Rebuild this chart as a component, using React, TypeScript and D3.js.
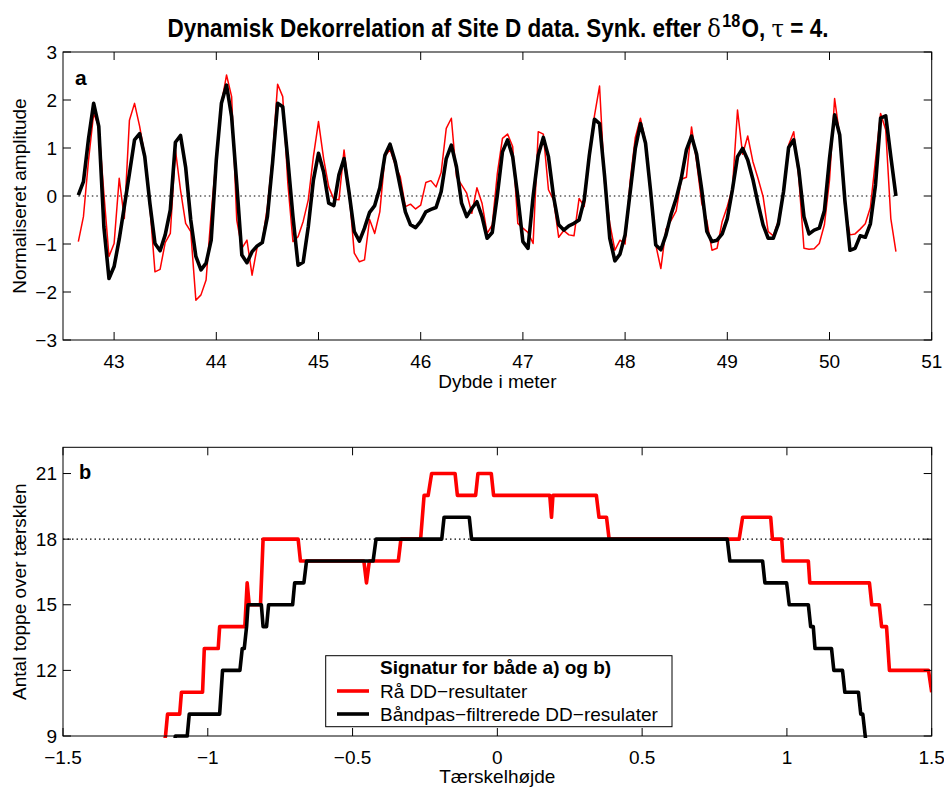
import React from 'react';
import * as d3 from 'd3';

// Depth sampling of the record (m)
const DEPTH_START = 42.65;
const DEPTH_STEP = 0.05;

// Panel a: raw DD result (red) and band-pass filtered DD result (black)
const rawAmp = [
  -0.95, -0.43, 0.75, 1.72, 1.45, 0.05, -1.26, -0.99, 0.37, -0.47,
  1.58, 1.93, 1.45, 0.85, -0.22, -1.58, -1.53, -0.97, -0.78, 0.96,
  0.12, -0.57, -0.74, -2.17, -2.06, -1.75, -0.36, 0.82, 1.93, 2.52,
  2.07, -0.5, -1.09, -0.92, -1.65, -1.06, -0.95, -0.22, 0.82, 2.33,
  2.07, 0.26, -0.95, -0.85, -0.53, -0.08, 0.82, 1.55, 0.78, 0.19,
  -0.07, -0.08, 0.96, 0.06, -1.19, -1.37, -1.33, -0.49, -0.78, -0.33,
  0.82, 0.97, 0.65, 0.4, -0.22, -0.17, -0.27, -0.19, 0.28, 0.32,
  0.19, 0.49, 1.41, 1.62, 0.4, 0.23, 0.06, -0.36, 0.17, -0.15,
  -0.78, -0.6, 0.47, 1.2, 1.29, 1.03, -0.57, -0.67, -0.76, -0.99,
  1.34, 1.29, 0.13, -0.08, -0.86, -0.72, -0.81, -0.83, -0.05, -0.22,
  0.92, 1.67, 2.29, 0.26, -0.57, -1.13, -0.92, -1.0, 0.33, 1.22,
  1.62, 1.13, -0.01, -1.02, -1.51, -0.69, -0.51, -0.31, 0.35, 0.39,
  1.44, 0.7, -0.15, -0.52, -1.13, -1.09, -0.53, -0.22, 0.16, 1.79,
  0.87, 1.25, 0.72, 0.37, -0.01, -0.74, -0.83, -0.51, 0.11, 1.06,
  1.34, 0.37, -1.09, -1.11, -1.1, -0.99, -0.6, 0.33, 2.03, 1.25,
  -0.22, -0.81, -0.79, -0.69, -0.58, -0.24, 0.75, 1.72, 1.38, -0.47,
  -1.16,
];

const filtAmp = [
  0.02, 0.3, 1.2, 1.93, 1.45, -0.64, -1.72, -1.47, -0.9, -0.22,
  0.47, 1.17, 1.3, 0.82, -0.15, -0.99, -1.14, -0.81, -0.29, 1.12,
  1.26, 0.6, -0.5, -1.26, -1.54, -1.4, -0.92, 0.75, 1.93, 2.31,
  1.65, 0.26, -1.23, -1.39, -1.16, -1.04, -0.97, -0.43, 0.68, 1.93,
  1.86, 0.75, -0.43, -1.44, -1.38, -0.64, 0.33, 0.89, 0.5, -0.15,
  -0.2, 0.44, 0.78, 0.06, -0.74, -0.94, -0.67, -0.34, -0.2, 0.17,
  0.85, 1.08, 0.72, 0.19, -0.33, -0.6, -0.66, -0.53, -0.33, -0.28,
  -0.24, 0.09, 0.78, 1.06, 0.61, -0.15, -0.43, -0.26, -0.12, -0.43,
  -0.88, -0.76, 0.02, 0.92, 1.17, 0.82, -0.01, -0.95, -1.09, -0.01,
  0.85, 1.22, 0.82, -0.01, -0.6, -0.71, -0.62, -0.57, -0.5, -0.08,
  0.85, 1.6, 1.51, 0.4, -0.88, -1.35, -1.21, -0.81, 0.09, 0.99,
  1.51, 1.1, 0.09, -1.02, -1.12, -0.81, -0.38, -0.05, 0.37, 0.96,
  1.25, 0.87, 0.13, -0.74, -0.95, -0.92, -0.79, -0.47, 0.13, 0.82,
  0.99, 0.75, 0.35, -0.15, -0.6, -0.88, -0.88, -0.58, 0.09, 1.01,
  1.17, 0.54, -0.43, -0.79, -0.71, -0.67, -0.31, 0.78, 1.69, 1.27,
  -0.08, -1.13, -1.09, -0.83, -0.86, -0.58, 0.23, 1.62, 1.67, 0.82,
  0.0,
];

const depthTicks = [43, 44, 45, 46, 47, 48, 49, 50, 51];
const ampTicks = [-3, -2, -1, 0, 1, 2, 3];

// Panel b: number of peaks above threshold, raw (red) and filtered (black)
const rawThreshold = [
  -1.16, -1.146, -1.139, -1.097, -1.091, -1.018, -1.012, -0.964, -0.959, -0.872,
  -0.864, -0.857, -0.818, -0.809, -0.688, -0.68, -0.461, -0.452, -0.442, -0.342,
  -0.333, -0.265, -0.253, -0.239, -0.227, -0.146, -0.138, -0.075, -0.067, -0.021,
  -0.013, 0.181, 0.187, 0.192, 0.342, 0.351, 0.377, 0.386, 0.835, 0.847,
  0.944, 0.95, 0.982, 0.987, 1.074, 1.079, 1.285, 1.293, 1.319, 1.327,
  1.344, 1.354, 1.489, 1.5,
];
const rawPeakCount = [
  8, 9, 10, 10, 11, 11, 13, 13, 14, 14,
  16, 15, 15, 18, 18, 17, 17, 16, 17, 17,
  18, 18, 20, 20, 21, 21, 20, 20, 21, 21,
  20, 20, 19, 20, 20, 19, 19, 18, 18, 19,
  19, 18, 18, 17, 17, 16, 16, 15, 15, 14,
  14, 12, 12, 11,
];
const filtThreshold = [
  -1.12, -1.112, -1.071, -1.064, -0.959, -0.949, -0.889, -0.881, -0.874, -0.866,
  -0.861, -0.815, -0.809, -0.797, -0.79, -0.707, -0.7, -0.668, -0.659, -0.429,
  -0.419, -0.192, -0.184, -0.097, -0.089, 0.794, 0.803, 0.916, 0.924, 0.999,
  1.008, 1.074, 1.082, 1.091, 1.097, 1.154, 1.162, 1.192, 1.2, 1.247,
  1.255, 1.262, 1.279,
];
const filtPeakCount = [
  8, 9, 9, 10, 10, 12, 12, 13, 13, 14,
  15, 15, 14, 14, 15, 15, 16, 16, 17, 17,
  18, 18, 19, 19, 18, 18, 17, 17, 16, 16,
  15, 15, 14, 14, 13, 13, 12, 12, 11, 11,
  10, 10, 8,
];

const thresholdTicks = [-1.5, -1, -0.5, 0, 0.5, 1, 1.5];
const countTicks = [9, 12, 15, 18, 21];
const REFERENCE_COUNT = 18;

const FONT = '"Liberation Sans", Arial, Helvetica, sans-serif';
const SYMBOL_FONT = "'DejaVu Serif', 'Liberation Serif', serif";
const RED = '#ff0000';
const TICK_LEN = 8;
const FS = 19;

const fmt = (v: number) => String(v).replace('-', '\u2212');

type Box = { left: number; right: number; top: number; bottom: number };

function Frame({ box, x, y, xTicks, yTicks }: {
  box: Box;
  x: d3.ScaleLinear<number, number>;
  y: d3.ScaleLinear<number, number>;
  xTicks: number[];
  yTicks: number[];
}) {
  return (
    <g>
      {xTicks.map((t) => (
        <g key={'x' + t}>
          <line x1={x(t)} x2={x(t)} y1={box.bottom} y2={box.bottom - TICK_LEN} stroke="#000" />
          <line x1={x(t)} x2={x(t)} y1={box.top} y2={box.top + TICK_LEN} stroke="#000" />
          <text x={x(t)} y={box.bottom + 27.5} textAnchor="middle" fontSize={FS}>{fmt(t)}</text>
        </g>
      ))}
      {yTicks.map((t) => (
        <g key={'y' + t}>
          <line x1={box.left} x2={box.left + TICK_LEN} y1={y(t)} y2={y(t)} stroke="#000" />
          <line x1={box.right} x2={box.right - TICK_LEN} y1={y(t)} y2={y(t)} stroke="#000" />
          <text x={box.left - 6} y={y(t) + 6.5} textAnchor="end" fontSize={FS}>{fmt(t)}</text>
        </g>
      ))}
      <rect x={box.left} y={box.top} width={box.right - box.left} height={box.bottom - box.top}
        fill="none" stroke="#000" strokeWidth={1} />
    </g>
  );
}

export default function App() {
  const W = 944;
  const H = 787;

  // Panel a
  const boxA: Box = { left: 63, right: 931.7, top: 52, bottom: 340 };
  const xA = d3.scaleLinear().domain([42.5, 51]).range([boxA.left, boxA.right]);
  const yA = d3.scaleLinear().domain([-3, 3]).range([boxA.bottom, boxA.top]);
  const depth = d3.range(rawAmp.length).map((i) => DEPTH_START + i * DEPTH_STEP);
  const lineA = d3.line<number>().x((_, i) => xA(depth[i])).y((v) => yA(v));

  // Panel b
  const boxB: Box = { left: 63, right: 931.7, top: 447.3, bottom: 736 };
  const xB = d3.scaleLinear().domain([-1.5, 1.5]).range([boxB.left, boxB.right]);
  const yB = d3.scaleLinear().domain([9, 22.2]).range([boxB.bottom, boxB.top]);
  const lineB = (xs: number[]) => d3.line<number>().x((_, i) => xB(xs[i])).y((v) => yB(v));

  return (
    <svg width={W} height={H} style={{ position: 'absolute', left: 0, top: 0, background: '#fff' }}
      fontFamily={FONT}>
      <defs>
        <clipPath id="clipB">
          <rect x={boxB.left} y={boxB.top} width={boxB.right - boxB.left} height={boxB.bottom - boxB.top + 2} />
        </clipPath>
      </defs>
      <rect width={W} height={H} fill="#fff" />

      {/* Title (condensed bold) */}
      <text transform="translate(498,37) scale(0.9,1)" textAnchor="middle" fontSize={25} fontWeight="bold">
        Dynamisk Dekorrelation af Site D data. Synk. efter{' '}
        <tspan fontFamily={SYMBOL_FONT} fontWeight="normal">δ</tspan>
        <tspan dx={1.5} dy={-10} fontSize={18}>18</tspan>
        <tspan dx={1.5} dy={10}>O, </tspan>
        <tspan fontFamily={SYMBOL_FONT} fontWeight="normal">τ</tspan>
        {' = 4.'}
      </text>

      {/* Panel a */}
      <line x1={xA(depth[0])} x2={xA(depth[depth.length - 1])} y1={yA(0)} y2={yA(0)}
        stroke="#000" strokeWidth={1.2} strokeDasharray="1.5,3" />
      <path d={lineA(rawAmp) || ''} fill="none" stroke={RED} strokeWidth={1.5} strokeLinejoin="round" />
      <path d={lineA(filtAmp) || ''} fill="none" stroke="#000" strokeWidth={3.6} strokeLinejoin="round" />
      <Frame box={boxA} x={xA} y={yA} xTicks={depthTicks} yTicks={ampTicks} />
      <text x={75} y={85} fontSize={21} fontWeight="bold">a</text>
      <text x={(boxA.left + boxA.right) / 2} y={388} textAnchor="middle" fontSize={FS}>Dybde i meter</text>
      <text transform={`translate(26,${(boxA.top + boxA.bottom) / 2}) rotate(-90)`} textAnchor="middle" fontSize={FS}>
        Normaliseret amplitude
      </text>

      {/* Panel b */}
      <line x1={boxB.left} x2={boxB.right} y1={yB(REFERENCE_COUNT)} y2={yB(REFERENCE_COUNT)}
        stroke="#000" strokeWidth={1.2} strokeDasharray="1.5,3" />
      <g clipPath="url(#clipB)">
        <path d={lineB(rawThreshold)(rawPeakCount) || ''} fill="none" stroke={RED} strokeWidth={3.6} strokeLinejoin="round" />
        <path d={lineB(filtThreshold)(filtPeakCount) || ''} fill="none" stroke="#000" strokeWidth={3.6} strokeLinejoin="round" />
      </g>
      <Frame box={boxB} x={xB} y={yB} xTicks={thresholdTicks} yTicks={countTicks} />
      <text x={79} y={479} fontSize={20} fontWeight="bold">b</text>
      <text x={(boxB.left + boxB.right) / 2} y={783} textAnchor="middle" fontSize={FS}>Tærskelhøjde</text>
      <text transform={`translate(26,${(boxB.top + boxB.bottom) / 2}) rotate(-90)`} textAnchor="middle" fontSize={FS}>
        Antal toppe over tærsklen
      </text>

      {/* Legend */}
      <g>
        <rect x={325.7} y={655.7} width={346.3} height={71} fill="#fff" stroke="#000" strokeWidth={1} />
        <text x={380} y={674} fontSize={FS} fontWeight="bold">Signatur for både a) og b)</text>
        <line x1={337} x2={369} y1={691} y2={691} stroke={RED} strokeWidth={3.6} />
        <text x={380} y={698} fontSize={FS}>Rå DD{'\u2212'}resultater</text>
        <line x1={337} x2={369} y1={714} y2={714} stroke="#000" strokeWidth={3.6} />
        <text x={380} y={721} fontSize={FS}>Båndpas{'\u2212'}filtrerede DD{'\u2212'}resulater</text>
      </g>
    </svg>
  );
}
